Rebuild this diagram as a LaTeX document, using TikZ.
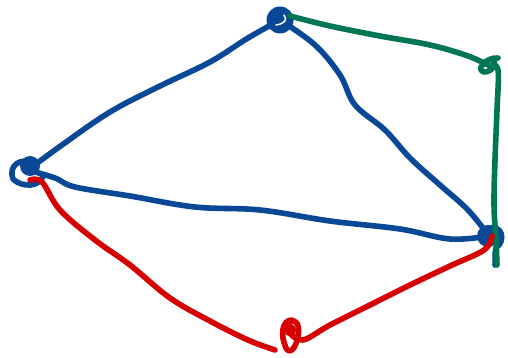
\documentclass[tikz,border=0pt]{standalone}
\definecolor{pblue}{RGB}{8,72,150}
\definecolor{pgreen}{RGB}{0,118,84}
\definecolor{pred}{RGB}{214,0,0}
\tikzset{
  pen/.style={line width=5.6pt, line cap=round, line join=round},
  knot/.style={circle, inner sep=0pt, minimum size=0pt},
}
\begin{document}
\begin{tikzpicture}[x=1pt,y=-1pt]
\useasboundingbox[fill=white] (0,0) rectangle (508,358);
\node[knot] (T) at (280,20) {};
\node[knot] (R) at (490,66) {};
\node[knot] (L) at (28,170) {};
\node[knot] (B) at (489,236) {};
\node[knot] (Bo) at (290,333) {};
% blue edges
\draw[pen,pblue] plot[smooth, tension=0.6] coordinates {(L) (62,145) (110,112) (160,86) (210,62) (248,38) (T)};
\draw[pen,pblue] plot[smooth, tension=0.6] coordinates {(T) (315,45) (340,75) (355,105) (385,130) (410,158) (440,185) (468,210) (B)};
\draw[pen,pblue] plot[smooth, tension=0.6] coordinates {(L) (55,178) (75,187) (130,196) (195,207) (260,210) (330,221) (400,229) (450,239) (B)};
% blue knots
\fill[pblue] (T) circle (13.5);
\draw[line width=1.5pt, white, line cap=round] (276,25) .. controls (284,24) and (288,20) .. (284,15);
\fill[pblue] (30,166) circle (10);
\draw[pen,pblue] (36,164) .. controls (20,156) and (8,166) .. (13,179) .. controls (22,188) and (40,187) .. (43,176);
\fill[pblue] (488,236) circle (11);
\draw[pen,pblue] (488,229) .. controls (501,223) and (507,240) .. (496,248) .. controls (494,256) and (496,262) .. (495,265);
% green edges
\draw[pen,pgreen] plot[smooth, tension=0.6] coordinates {(290,16) (330,26) (380,36) (430,45) (468,56) (R)};
\draw[pen,pgreen] plot[smooth, tension=0.6] coordinates {(R) (498,70) (497,110) (495,160) (494,205) (496,240) (497,265)};
\draw[pen,pgreen] (498,58) .. controls (486,57) and (475,70) .. (484,72) .. controls (493,72) and (498,62) .. (492,60);
% red edges
\draw[pen,pred] plot[smooth, tension=0.6] coordinates {(30,180) (42,182) (60,210) (95,240) (130,265) (170,298) (210,321) (248,340) (275,350)};
\draw[pen,pred] plot[smooth, tension=0.6] coordinates {(Bo) (303,340) (330,325) (370,305) (410,285) (450,266) (484,250) (492,236)};
\draw[pen,pred] (292,320) .. controls (282,320) and (280,335) .. (286,348) .. controls (290,355) and (296,348) .. (298,336) .. controls (300,325) and (296,318) .. (290,322);
\fill[pred] (290,330) circle (6);
\end{tikzpicture}
\end{document}
